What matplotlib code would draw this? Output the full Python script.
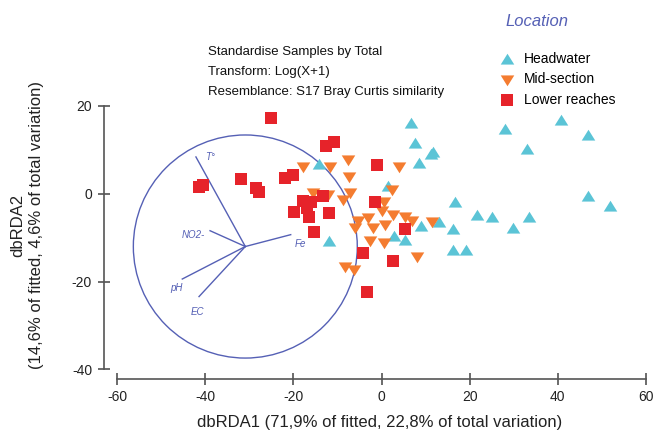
import matplotlib.pyplot as plt
from matplotlib.patches import Circle

plt.rcParams['font.family'] = ['Liberation Sans', 'DejaVu Sans']
plt.rcParams['axes.unicode_minus'] = False

# sample scores on dbRDA1 / dbRDA2
head_x = [6.6, 27.9, 40.7, 46.8, 7.6, 33.1, 11.7, 11.2, 8.6, 1.5, 46.8, 51.9, 16.7,
          21.6, 25.1, 33.4, 29.8, 16.3, 13.1, 8.9, 2.9, 5.3, 16.1, 19.2, -14.2, -12.0]
head_y = [16.2, 14.8, 16.7, 13.3, 11.5, 10.2, 9.6, 9.0, 7.1, 1.7, -0.4, -2.7, -1.9,
          -4.8, -5.3, -5.3, -7.8, -8.0, -6.5, -7.4, -9.5, -10.6, -12.7, -12.7, 6.8, -10.8]

mid_x = [-17.8, -11.7, -7.7, -7.4, 3.9, -15.5, -12.1, -7.2, -8.7, 2.3, 0.5, 0.0, 2.6,
         5.3, 6.8, 11.4, -5.3, -3.0, -6.1, -1.9, 0.8, -2.7, 0.6, 8.0, -8.3, -6.3]
mid_y = [6.0, 6.2, 7.7, 3.9, 6.0, 0.1, -0.2, 0.1, -1.4, 0.9, -1.9, -3.9, -4.8,
         -5.2, -6.3, -6.5, -6.3, -5.5, -7.7, -7.8, -7.0, -10.8, -11.2, -14.3, -16.7, -17.4]

low_x = [-25.0, -12.7, -10.8, -1.0, -41.4, -40.5, -31.8, -28.4, -27.7, -22.0, -20.1, -17.8,
         -16.1, -13.3, -19.9, -17.0, -16.4, -12.0, -15.4, -1.5, 5.3, -4.2, 2.5, -3.4]
low_y = [17.3, 10.8, 11.9, 6.6, 1.5, 2.0, 3.4, 1.3, 0.5, 3.7, 4.2, -1.6,
         -1.9, -0.6, -4.2, -3.3, -5.2, -4.4, -8.7, -1.9, -8.0, -13.5, -15.2, -22.3]

# environmental vectors
vec_names = ['T°', 'NO2-', 'Fe', 'pH', 'EC']
vec_x = [-42.1, -38.9, -20.6, -45.2, -41.4]
vec_y = [8.4, -8.4, -9.3, -19.4, -23.4]
lab_x = [-39.0, -42.8, -18.5, -46.6, -41.8]
lab_y = [8.3, -9.4, -11.4, -21.4, -26.8]
origin = (-30.9, -12.0)
radius = 25.4

cyan = '#5bc4d6'
orange = '#f47c30'
red = '#e6232a'
blue = '#5560b5'

tri_up = [(-1, -0.75), (1, -0.75), (0, 0.85)]
tri_down = [(-1, 0.75), (1, 0.75), (0, -0.85)]

fig = plt.figure(figsize=(6.56, 4.33), dpi=100)
ax = fig.add_axes([0.1784, 0.1467, 0.8064, 0.6085])

ax.scatter(head_x, head_y, marker=tri_up, s=95, color=cyan, linewidths=0, clip_on=False,
           label='Headwater', zorder=3)
ax.scatter(mid_x, mid_y, marker=tri_down, s=95, color=orange, linewidths=0, clip_on=False,
           label='Mid-section', zorder=3)
ax.scatter(low_x, low_y, marker='s', s=70, color=red, linewidths=0, clip_on=False,
           label='Lower reaches', zorder=3)

ax.add_patch(Circle(origin, radius, fill=False, edgecolor=blue, lw=1.0, zorder=2))
for name, vx, vy, lx, ly in zip(vec_names, vec_x, vec_y, lab_x, lab_y):
    ax.plot([origin[0], vx], [origin[1], vy], color=blue, lw=1.0, zorder=2)
    ax.text(lx, ly, name, color=blue, fontsize=7, style='italic', ha='center', va='center')

ax.set_xlim(-60, 60)
ax.set_ylim(-40, 20)
ax.set_xticks([-60, -40, -20, 0, 20, 40, 60])
ax.set_yticks([-40, -20, 0, 20])
for side in ['top', 'right']:
    ax.spines[side].set_visible(False)
ax.spines['left'].set_position(('outward', 9.5))
ax.spines['bottom'].set_position(('outward', 6.5))
ax.spines['left'].set_bounds(-40, 20)
ax.spines['bottom'].set_bounds(-60, 60)
for side in ['left', 'bottom']:
    ax.spines[side].set_color('#555555')
    ax.spines[side].set_linewidth(1.2)
ax.tick_params(direction='inout', length=9, width=1.1, color='#444444',
               labelsize=10, labelcolor='#222222', pad=4)

fig.text(380 / 656, 1 - 423 / 433, 'dbRDA1 (71,9% of fitted, 22,8% of total variation)',
         ha='center', va='center', fontsize=12, color='#222222')
fig.text(27 / 656, 1 - 225 / 433, 'dbRDA2\n(14,6% of fitted, 4,6% of total variation)',
         ha='center', va='center', rotation=90, fontsize=12, color='#222222',
         multialignment='center', linespacing=1.3)

notes = ['Standardise Samples by Total', 'Transform: Log(X+1)',
         'Resemblance: S17 Bray Curtis similarity']
for i, note in enumerate(notes):
    fig.text(208 / 656, 1 - (52 + 20 * i) / 433, note, ha='left', va='center',
             fontsize=9.5, color='#111111')

fig.text(505 / 656, 1 - 21 / 433, 'Location', ha='left', va='center', fontsize=12,
         style='italic', color=blue)
ax.legend(loc='upper left', bbox_to_anchor=(500 / 656, 1 - 52 / 433),
          bbox_transform=fig.transFigure, frameon=False, fontsize=10,
          handlelength=1.0, handletextpad=0.7, labelspacing=0.45, borderpad=0,
          borderaxespad=0)

fig.savefig('out.png', dpi=100)
